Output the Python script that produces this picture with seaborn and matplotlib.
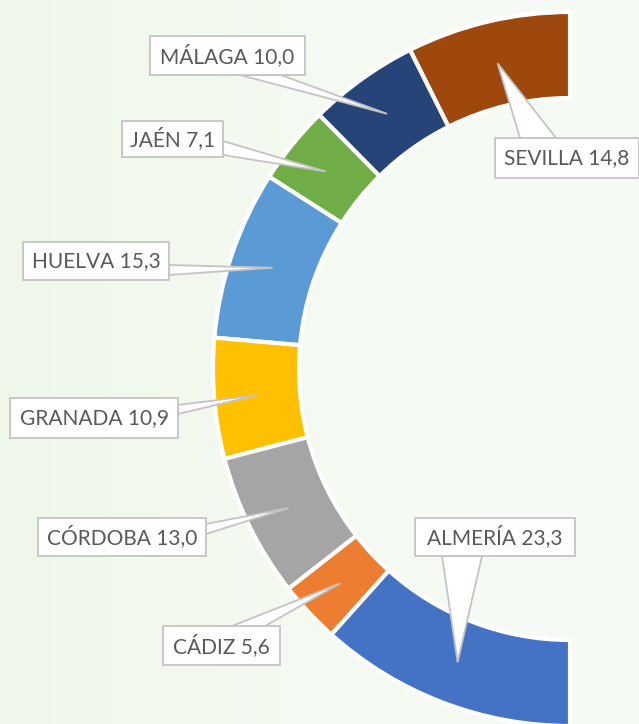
import numpy as np
import matplotlib
matplotlib.use("Agg")
import matplotlib.pyplot as plt
from matplotlib.patches import Rectangle, Polygon
from matplotlib.colors import LinearSegmentedColormap
import seaborn as sns

sns.set_theme(style="white")
plt.rcParams['font.family'] = ['Lato', 'DejaVu Sans']

provinces = ["SEVILLA", "MÁLAGA", "JAÉN", "HUELVA", "GRANADA", "CÓRDOBA", "CÁDIZ", "ALMERÍA"]
values = [14.8, 10.0, 7.1, 15.3, 10.9, 13.0, 5.6, 23.3]
value_labels = ["14,8", "10,0", "7,1", "15,3", "10,9", "13,0", "5,6", "23,3"]
colors = ["#9E480E", "#264478", "#70AD47", "#5B9BD5", "#FFC000", "#A5A5A5", "#ED7D31", "#4472C4"]

W, H = 639, 724
# label boxes in pixel coords (x0, y0_top, x1, y1_bottom)
boxes = [(495, 138, 639, 178), (150, 36, 305, 75), (122, 121, 223, 157), (23, 242, 169, 280),
         (10, 398, 178, 438), (38, 518, 206, 556), (163, 626, 280, 665), (415, 518, 575, 556)]
# pointer base points on box edges (pixel coords)
bases = [((520, 138), (556, 138)), ((240, 75), (281, 75)), ((223, 141), (223, 155)),
         ((169, 265), (169, 275)), ((178, 405), (178, 414)), ((206, 524), (206, 534)),
         ((232, 626), (265, 626)), ((442, 556), (482, 556))]

cx, cy = 570, 369
R_out, R_in = 357, 271

fig = plt.figure(figsize=(W / 100, H / 100), dpi=100)
ax = fig.add_axes([0, 0, 1, 1])
ax.set_xlim(0, W)
ax.set_ylim(0, H)

# background gradient
cmap = LinearSegmentedColormap.from_list("bg", ["#eff7ea", "#f5faf2", "#f7fbf6"])
grad = np.linspace(0, 1, 256).reshape(1, -1)
ax.imshow(grad, extent=(0, W, 0, H), cmap=cmap, aspect='auto', zorder=0)

total = sum(values)
wedges, _ = ax.pie(values + [total], colors=colors + ["none"], startangle=90, counterclock=True,
                   center=(cx, H - cy), radius=R_out, frame=True,
                   wedgeprops=dict(width=R_out - R_in, edgecolor="white", linewidth=3))
wedges[-1].set_edgecolor("none")
for w in wedges:
    w.set_zorder(2)
ax.set_xlim(0, W)
ax.set_ylim(0, H)
ax.set_axis_off()

cum = np.cumsum([0] + values)
r_mid = (R_out + R_in) / 2
for i, name in enumerate(provinces):
    mid = (cum[i] + cum[i + 1]) / 2
    ang = np.deg2rad(90 + mid / (2 * total) * 360)
    tx = cx + r_mid * np.cos(ang)
    ty = (H - cy) + r_mid * np.sin(ang)
    (b1, b2) = bases[i]
    tri = Polygon([(b1[0], H - b1[1]), (tx, ty), (b2[0], H - b2[1])], closed=True,
                  facecolor="white", edgecolor="#C4C4C4", linewidth=1.3, zorder=3)
    ax.add_patch(tri)
    x0, y0, x1, y1 = boxes[i]
    ax.add_patch(Rectangle((x0, H - y1), x1 - x0, y1 - y0, facecolor="white",
                           edgecolor="#C4C4C4", linewidth=1.3, zorder=4))
    ax.text((x0 + x1) / 2, H - (y0 + y1) / 2, f"{name} {value_labels[i]}", ha="center", va="center",
            fontsize=15, color="#595959", zorder=5)

fig.savefig("out.png", dpi=100)
